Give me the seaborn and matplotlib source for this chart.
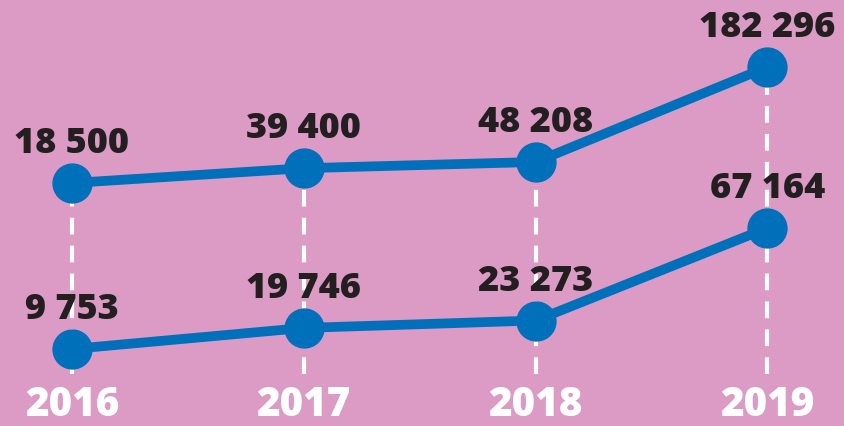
import numpy as np
import pandas as pd
import matplotlib
matplotlib.use('Agg')
import matplotlib.pyplot as plt
import seaborn as sns

# chart data
years = [2016, 2017, 2018, 2019]
upper_values = [18500, 39400, 48208, 182296]
lower_values = [9753, 19746, 23273, 67164]
upper_labels = ['18 500', '39 400', '48 208', '182 296']
lower_labels = ['9 753', '19 746', '23 273', '67 164']

bg = '#db9bc5'
blue = '#0070bb'
dark = '#231f20'

sns.set_theme(style='white')
plt.rcParams['font.family'] = ['Open Sans', 'DejaVu Sans']

df = pd.DataFrame({'year': years, 'upper': upper_values, 'lower': lower_values})

fig = plt.figure(figsize=(8.44, 4.26), dpi=100)
fig.patch.set_facecolor(bg)
ax = fig.add_axes([0, 0, 1, 1])
ax.set_facecolor(bg)
ax2 = ax.twinx()

ax.set_xlim(2015.69, 2019.33)
ax.set_ylim(-324600, 276900)
ax2.set_ylim(-26780, 175340)

# dashed guides from the upper points down to the bottom
dash_bottom = 1 - 374 / 426
lo, hi = ax.get_ylim()
for x, v in zip(years, upper_values):
    frac = (v - lo) / (hi - lo)
    ax.plot([x, x], [dash_bottom, frac], transform=ax.get_xaxis_transform(),
            color='white', lw=3, ls=(0, (4, 2.7)), zorder=1)

sns.lineplot(data=df, x='year', y='upper', ax=ax, color=blue, lw=7,
             marker='o', markersize=29, markeredgewidth=0, zorder=3)
sns.lineplot(data=df, x='year', y='lower', ax=ax2, color=blue, lw=7,
             marker='o', markersize=29, markeredgewidth=0, zorder=3)

for x, v, t in zip(years, upper_values, upper_labels):
    ax.annotate(t, (x, v), xytext=(0, 28), textcoords='offset points',
                ha='center', va='center', fontsize=26, fontweight=800, color=dark)
for x, v, t in zip(years, lower_values, lower_labels):
    ax2.annotate(t, (x, v), xytext=(0, 28), textcoords='offset points',
                 ha='center', va='center', fontsize=26, fontweight=800, color=dark)

for x in years:
    ax.text(x, 1 - 406 / 426, str(x), transform=ax.get_xaxis_transform(),
            ha='center', va='center', fontsize=29, fontweight=800, color='white')

for a in (ax, ax2):
    a.set_axis_off()

fig.savefig('out.png', dpi=100, facecolor=bg)
